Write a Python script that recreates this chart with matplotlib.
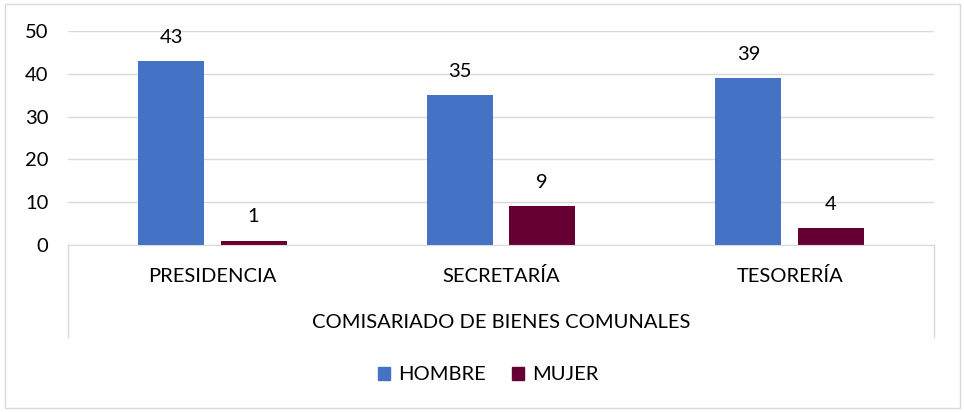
import matplotlib.pyplot as plt
from matplotlib.patches import Rectangle, Patch
import numpy as np

categorias = ['PRESIDENCIA', 'SECRETARÍA', 'TESORERÍA']
hombre = [43, 35, 39]
mujer = [1, 9, 4]
series = ['HOMBRE', 'MUJER']
titulo_eje = 'COMISARIADO DE BIENES COMUNALES'

azul = '#4472C4'
vino = '#660033'
gris = '#D9D9D9'
fs = 14.5

plt.rcParams['font.family'] = ['Lato', 'DejaVu Sans']

fig = plt.figure(figsize=(9.64, 4.12), dpi=100)
W, H = 964, 412

# borde exterior del gráfico
fig.patches.append(Rectangle((5 / W, 4 / H), 955 / W, 404 / H, transform=fig.transFigure,
                             fill=False, edgecolor=gris, linewidth=1))

ax = fig.add_axes([68 / W, 1 - 245 / H, (934 - 68) / W, (245 - 31) / H])

x = np.arange(len(categorias))
ancho = 0.229
desp = 0.143
b1 = ax.bar(x - desp, hombre, ancho, color=azul, zorder=3)
b2 = ax.bar(x + desp, mujer, ancho, color=vino, zorder=3)

for barras in (b1, b2):
    for b in barras:
        ax.annotate(str(int(b.get_height())), (b.get_x() + b.get_width() / 2, b.get_height()),
                    xytext=(0, 11), textcoords='offset points', ha='center', va='bottom',
                    fontsize=fs, color='#000000')

ax.set_xlim(-0.5, len(categorias) - 0.5)
ax.set_ylim(0, 50)
ax.set_yticks(range(0, 51, 10))
ax.tick_params(axis='y', length=0, labelsize=fs, pad=14)
ax.set_xticks([])
ax.grid(axis='y', color=gris, linewidth=1, zorder=0)
for s in ['top', 'right', 'left']:
    ax.spines[s].set_visible(False)
ax.spines['bottom'].set_color(gris)
ax.spines['bottom'].set_zorder(4)

# etiquetas de categoría y título del eje (eje de varios niveles)
for i, c in enumerate(categorias):
    ax.text(i, -0.145, c, transform=ax.get_xaxis_transform(), ha='center', va='center',
            fontsize=fs)
ax.text(0.5, -0.36, titulo_eje, transform=ax.transAxes, ha='center', va='center', fontsize=fs)
for xa in (0, 1):
    ax.plot([xa, xa], [0, -0.43], transform=ax.transAxes, color=gris, linewidth=1,
            clip_on=False)

handles = [Patch(color=azul), Patch(color=vino)]
fig.legend(handles, series, loc='center', bbox_to_anchor=(488 / W, 1 - 375 / H), ncol=2,
           frameon=False, fontsize=fs, handlelength=0.6, handleheight=0.6,
           handletextpad=0.4, columnspacing=1.3)

fig.savefig('out.png', dpi=100)
